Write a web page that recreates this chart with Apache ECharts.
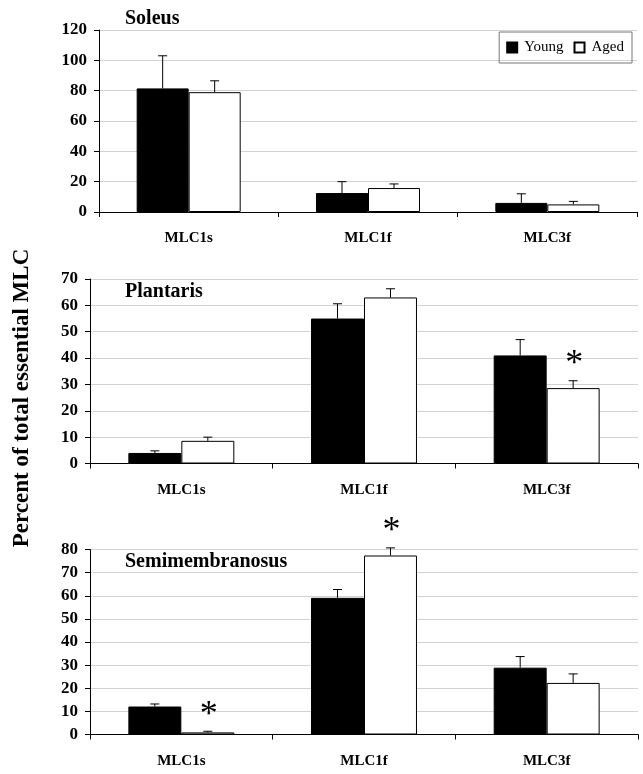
<!DOCTYPE html>
<html>
<head>
<meta charset="utf-8">
<script src="https://cdn.jsdelivr.net/npm/echarts@6/dist/echarts.min.js"></script>
<style>html,body{margin:0;padding:0;background:#fff;}#c{width:643px;height:774px;}</style>
</head>
<body>
<div id="c"></div>
<script>
const categories = ['MLC1s', 'MLC1f', 'MLC3f'];
const panelTitles = ['Soleus', 'Plantaris', 'Semimembranosus'];
const yMax = [120, 70, 80];
const yInterval = [20, 10, 10];
// Soleus
const soleusYoung = [81.5, 12.5, 6];
const soleusYoungErr = [103, 20, 12];
const soleusAged = [79, 15.8, 5];
const soleusAgedErr = [86.5, 18.5, 7];
const soleusSig = [0, 0, 0];
// Plantaris
const plantarisYoung = [4, 55, 41];
const plantarisYoungErr = [4.8, 60.6, 47];
const plantarisAged = [8.6, 63, 28.6];
const plantarisAgedErr = [10, 66.3, 31.4];
const plantarisSig = [0, 0, 1];
// Semimembranosus
const semiYoung = [12.1, 59.1, 28.9];
const semiYoungErr = [13.2, 62.7, 33.7];
const semiAged = [0.9, 77.4, 22.3];
const semiAgedErr = [1.4, 80.7, 26.2];
const semiSig = [1, 1, 0];

const panels = [
  {young: soleusYoung, youngErr: soleusYoungErr, aged: soleusAged, agedErr: soleusAgedErr, sig: soleusSig},
  {young: plantarisYoung, youngErr: plantarisYoungErr, aged: plantarisAged, agedErr: plantarisAgedErr, sig: plantarisSig},
  {young: semiYoung, youngErr: semiYoungErr, aged: semiAged, agedErr: semiAgedErr, sig: semiSig}
];

const FONT = 'Liberation Serif';
const GAP = 0.42;
const grids = [
  {left: 99, right: 6, top: 30, height: 182},
  {left: 90, right: 5, top: 279, height: 184.5},
  {left: 90, right: 5, top: 549.5, height: 185}
];

const chart = echarts.init(document.getElementById('c'), null, {renderer: 'canvas'});

function errRender(side, showSig) {
  return function (params, api) {
    const idx = api.value(0);
    const top = api.coord([idx, api.value(2)]);
    const base = api.coord([idx, api.value(1)]);
    const band = api.size([1, 0])[0];
    const bw = band * (1 - GAP) / 2;
    const x = base[0] + side * bw / 2;
    const cap = 4.5;
    const children = [
      {type: 'line', shape: {x1: x, y1: base[1], x2: x, y2: top[1]}, style: {stroke: '#000', lineWidth: 1}},
      {type: 'line', shape: {x1: x - cap, y1: top[1], x2: x + cap, y2: top[1]}, style: {stroke: '#000', lineWidth: 1}}
    ];
    if (showSig && api.value(3)) {
      children.push({type: 'text', x: x + 1, y: top[1] - 16,
        style: {text: '*', font: '36px "' + FONT + '"', fill: '#000', align: 'center', verticalAlign: 'middle'}});
    }
    return {type: 'group', children: children};
  };
}

const option = {
  animation: false,
  backgroundColor: '#fff',
  title: panelTitles.map((t, i) => ({
    text: t, left: 125, top: [9, 282, 552][i], padding: 0,
    textStyle: {fontFamily: FONT, fontWeight: 'bold', fontSize: 20, color: '#000'}
  })),
  legend: {
    data: ['Young', 'Aged'],
    right: 11, top: 32,
    orient: 'horizontal',
    itemWidth: 10, itemHeight: 10, itemGap: 10,
    icon: 'rect',
    borderColor: '#777', borderWidth: 1, padding: [8, 8, 8, 7],
    textStyle: {fontFamily: FONT, fontSize: 15, color: '#000', padding: [0, 0, 0, 2]}
  },
  graphic: [{
    type: 'text', x: 22, y: 398, rotation: Math.PI / 2,
    style: {text: 'Percent of total essential MLC', font: 'bold 23px "' + FONT + '"', fill: '#000', align: 'center', verticalAlign: 'middle'}
  }],
  grid: grids,
  xAxis: grids.map((g, i) => ({
    type: 'category', gridIndex: i, data: categories,
    axisLine: {lineStyle: {color: '#000', width: 1}},
    axisTick: {show: true, length: 5, lineStyle: {color: '#000'}},
    axisLabel: {fontFamily: FONT, fontWeight: 'bold', fontSize: 15, color: '#000', margin: 19}
  })),
  yAxis: grids.map((g, i) => ({
    type: 'value', gridIndex: i, min: 0, max: yMax[i], interval: yInterval[i],
    axisLine: {show: true, lineStyle: {color: '#000', width: 1}},
    axisTick: {show: true, length: 5, lineStyle: {color: '#000'}},
    splitLine: {lineStyle: {color: '#d2d2d2', width: 1}},
    axisLabel: {fontFamily: FONT, fontWeight: 'bold', fontSize: 17, color: '#000', margin: 12}
  })),
  series: []
};

panels.forEach((p, i) => {
  option.series.push({
    name: 'Young', type: 'bar', xAxisIndex: i, yAxisIndex: i, data: p.young,
    barGap: '0%', barCategoryGap: (GAP * 100) + '%',
    itemStyle: {color: '#000', borderColor: '#000', borderWidth: 1}
  });
  option.series.push({
    name: 'Aged', type: 'bar', xAxisIndex: i, yAxisIndex: i, data: p.aged,
    barGap: '0%', barCategoryGap: (GAP * 100) + '%',
    itemStyle: {color: '#fff', borderColor: '#000', borderWidth: 1}
  });
  option.series.push({
    type: 'custom', xAxisIndex: i, yAxisIndex: i, z: 5,
    renderItem: errRender(-1, false),
    data: categories.map((c, k) => [k, p.young[k], p.youngErr[k], 0])
  });
  option.series.push({
    type: 'custom', xAxisIndex: i, yAxisIndex: i, z: 5,
    renderItem: errRender(1, true),
    data: categories.map((c, k) => [k, p.aged[k], p.agedErr[k], p.sig[k]])
  });
});

chart.setOption(option);
</script>
</body>
</html>
